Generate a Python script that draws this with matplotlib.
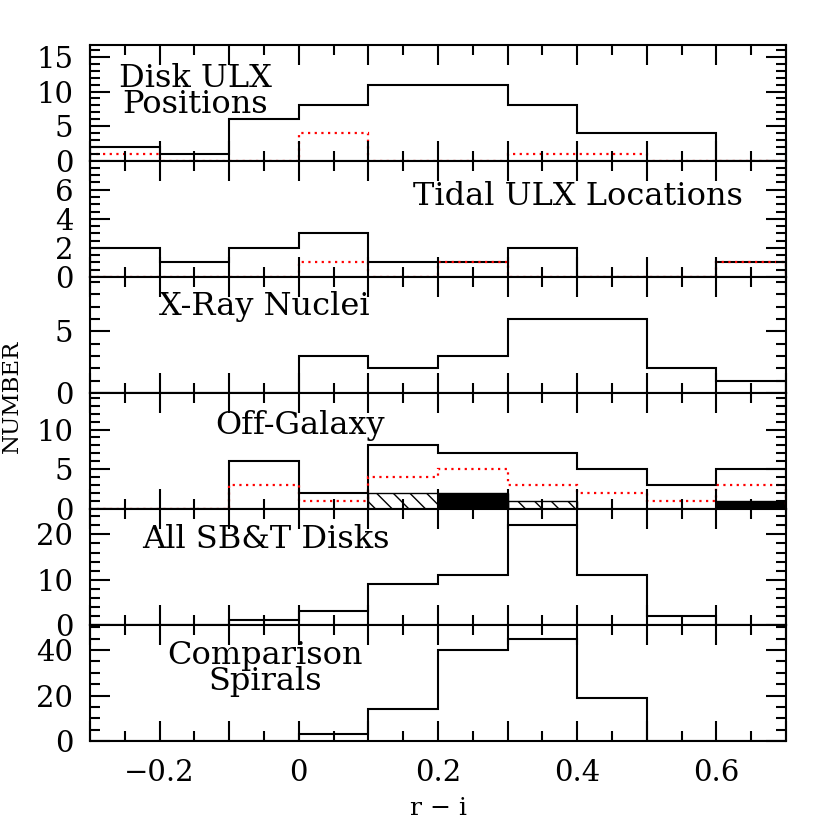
import matplotlib
matplotlib.use("Agg")
import matplotlib.pyplot as plt
from matplotlib.ticker import MultipleLocator, FuncFormatter

plt.rcParams['font.family'] = ['DejaVu Serif', 'DejaVu Sans']
plt.rcParams['hatch.linewidth'] = 1.0

# ---- data ----
bin_edges = [-0.3, -0.2, -0.1, 0.0, 0.1, 0.2, 0.3, 0.4, 0.5, 0.6, 0.7]

disk_all = [2, 1, 6, 8, 11, 11, 8, 4, 4, 0]
disk_red = [1, 0, 0, 4, 0, 0, 1, 1, 0, 0]

tidal_all = [2, 1, 2, 3, 1, 1, 2, 0, 0, 1]
tidal_red = [0, 0, 0, 1, 0, 1, 0, 0, 0, 1]

xray_all = [0, 0, 0, 3, 2, 3, 6, 6, 2, 1]

off_all = [0, 0, 6, 2, 8, 7, 7, 5, 3, 5]
off_red = [0, 0, 3, 1, 4, 5, 3, 2, 1, 3]
off_hatched = [0, 0, 0, 0, 2, 0, 1, 0, 0, 0]
off_filled = [0, 0, 0, 0, 0, 2, 0, 0, 0, 1]

sbt_all = [0, 0, 1, 3, 9, 11, 22, 11, 2, 0]

comp_all = [0, 0, 0, 3, 14, 40, 45, 19, 0, 0]

panel_labels = ["Disk ULX\nPositions", "Tidal ULX Locations", "X-Ray Nuclei",
                "Off-Galaxy", "All SB&T Disks", "Comparison\nSpirals"]
y_tops = [16.7, 7.97, 9.4, 14.6, 25.6, 51]
y_major = [5, 2, 5, 5, 10, 20]
y_minor = [1, 0.5, 1, 1, 2, 5]
x_ticklabels = {-0.2: "\u22120.2", 0.0: "0", 0.2: "0.2", 0.4: "0.4", 0.6: "0.6"}

# ---- layout ----
W, H = 830, 830
fig = plt.figure(figsize=(8.3, 8.3), dpi=100)
left_px, right_px, top_px, ph = 90, 786, 45, 116
label_pos = [(0.151, 0.60), (0.701, 0.698), (0.25, 0.75),
             (0.302, 0.716), (0.252, 0.733), (0.251, 0.625)]

axes = []
for i in range(6):
    b = 1 - (top_px + ph * (i + 1)) / H
    ax = fig.add_axes([left_px / W, b, (right_px - left_px) / W, ph / H])
    axes.append(ax)

widths = [bin_edges[k + 1] - bin_edges[k] for k in range(len(bin_edges) - 1)]
lefts = bin_edges[:-1]

def xfmt(v, pos):
    for key, lab in x_ticklabels.items():
        if abs(v - key) < 1e-6:
            return lab
    return ""

def style(ax, i):
    ax.set_xlim(bin_edges[0], bin_edges[-1])
    ax.set_ylim(0, y_tops[i])
    for s in ax.spines.values():
        s.set_linewidth(1.5)
    ax.xaxis.set_major_locator(MultipleLocator(0.1))
    ax.xaxis.set_minor_locator(MultipleLocator(0.05))
    ax.yaxis.set_major_locator(MultipleLocator(y_major[i]))
    ax.yaxis.set_minor_locator(MultipleLocator(y_minor[i]))
    ax.tick_params(which='both', direction='in', top=True, right=True,
                   width=1.5, labelsize=21)
    ax.tick_params(which='major', length=14.5)
    ax.tick_params(which='minor', length=7.5)
    ax.tick_params(axis='y', pad=12)
    ax.tick_params(axis='x', pad=13)
    ax.xaxis.set_major_formatter(FuncFormatter(xfmt))
    ax.yaxis.set_major_formatter(FuncFormatter(lambda v, p: "%d" % round(v)))
    if i < 5:
        ax.tick_params(axis='x', labelbottom=False)

blk = dict(color='black', lw=1.5, baseline=0)
red = dict(color='red', lw=1.6, baseline=0, linestyle=(0, (1, 2)))

# panel 1
axes[0].stairs(disk_all, bin_edges, **blk)
axes[0].stairs(disk_red, bin_edges, **red)
# panel 2
axes[1].stairs(tidal_all, bin_edges, **blk)
axes[1].stairs(tidal_red, bin_edges, **red)
# panel 3
axes[2].stairs(xray_all, bin_edges, **blk)
# panel 4
axes[3].bar(lefts, off_hatched, width=widths, align='edge', facecolor='white',
            edgecolor='black', hatch='\\\\', linewidth=1.0)
axes[3].bar(lefts, off_filled, width=widths, align='edge', color='black',
            edgecolor='black', linewidth=1.0)
axes[3].stairs(off_all, bin_edges, **blk)
axes[3].stairs(off_red, bin_edges, **red)
# panel 5
axes[4].stairs(sbt_all, bin_edges, **blk)
# panel 6
axes[5].stairs(comp_all, bin_edges, **blk)

for i, ax in enumerate(axes):
    style(ax, i)
    x, y = label_pos[i]
    ax.text(x, y, panel_labels[i], transform=ax.transAxes, ha='center',
            va='center', fontsize=23, multialignment='center', linespacing=0.8)

fig.text(12 / W, 1 - 396 / H, "NUMBER", rotation=90, ha='center', va='center',
         fontsize=16.5)
fig.text(438 / W, 1 - 808 / H, "r \u2212 i", ha='center', va='center', fontsize=18)

fig.savefig("out.png", dpi=100)
